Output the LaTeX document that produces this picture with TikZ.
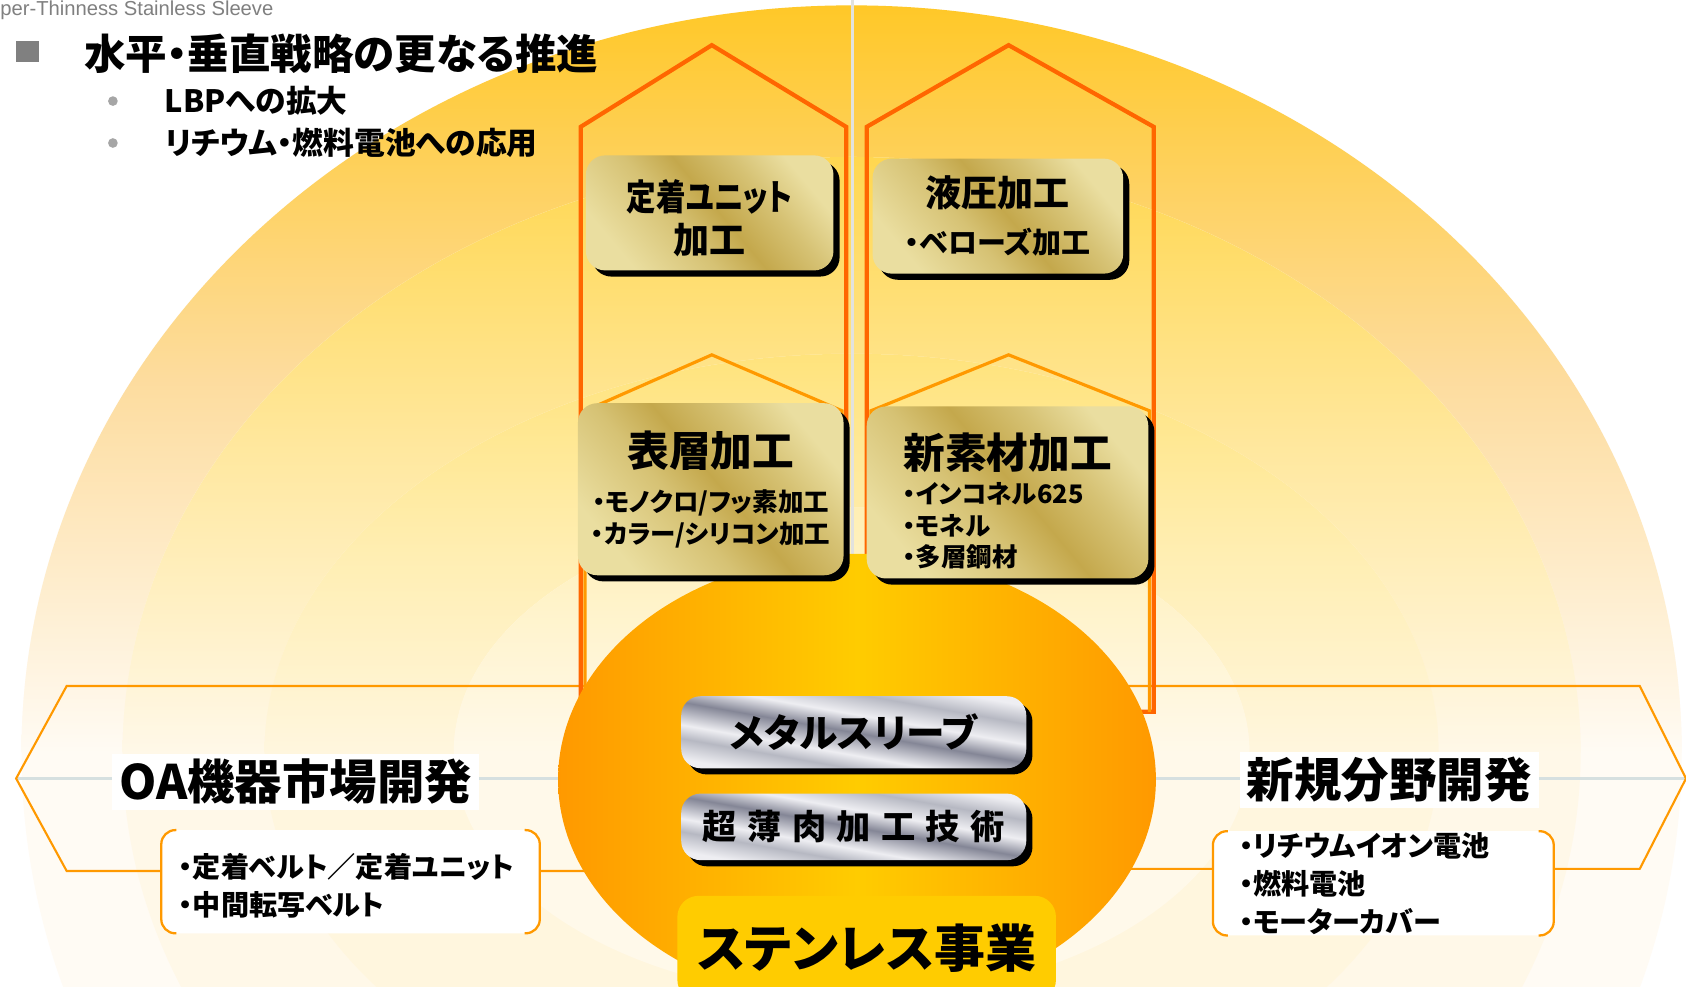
\documentclass[tikz,border=0pt]{standalone}
\usepackage{graphicx}
\usepackage{fontspec}
\setmainfont{Noto Sans CJK JP}[RawFeature=+palt, BoldFont={Noto Sans CJK JP Black}]
\newfontfamily\latfont{Liberation Sans}
\usetikzlibrary{shadows}

\definecolor{pentOrange}{RGB}{255,102,0}
\definecolor{hexOrange}{RGB}{255,153,0}
\definecolor{lineGray}{RGB}{214,224,224}
\definecolor{vertGray}{RGB}{226,226,222}
\definecolor{titleGray}{RGB}{128,128,128}
\definecolor{ellOrange}{RGB}{255,153,0}
\definecolor{ellYellow}{RGB}{255,204,0}
\definecolor{baseYellow}{RGB}{255,204,0}
\definecolor{goldL}{RGB}{234,222,160}
\definecolor{goldM}{RGB}{214,194,116}
\definecolor{goldD}{RGB}{196,168,76}
\definecolor{silverL}{RGB}{238,238,242}
\definecolor{silverM}{RGB}{182,184,194}
\definecolor{silverD}{RGB}{132,134,150}
% background bands
\definecolor{bandAt}{RGB}{255,200,40}
\definecolor{bandAm}{RGB}{253,220,158}
\definecolor{bandAb}{RGB}{255,251,244}
\definecolor{bandBt}{RGB}{255,215,80}
\definecolor{bandBm}{RGB}{255,232,160}
\definecolor{bandBb}{RGB}{255,248,232}
\definecolor{bandCt}{RGB}{255,227,124}
\definecolor{bandCm}{RGB}{255,238,178}
\definecolor{bandCb}{RGB}{255,246,222}
\definecolor{bandDt}{RGB}{255,239,180}
\definecolor{bandDm}{RGB}{255,244,208}
\definecolor{bandDb}{RGB}{255,249,234}

\pgfdeclarehorizontalshading{goldmetal}{100bp}{color(0bp)=(goldL); color(25bp)=(goldL); color(42bp)=(goldM); color(52bp)=(goldD); color(64bp)=(goldM); color(75bp)=(goldL); color(100bp)=(goldL)}
\pgfdeclarehorizontalshading{silvermetal}{100bp}{color(0bp)=(silverL); color(25bp)=(silverL); color(34bp)=(silverM); color(40bp)=(silverL); color(50bp)=(silverD); color(58bp)=(silverL); color(67bp)=(silverM); color(75bp)=(silverL); color(100bp)=(silverL)}

\newcommand{\headfont}{\fontsize{23.7}{28}\selectfont}
\newcommand{\itemfont}{\fontsize{14.5}{18}\selectfont}

\tikzset{
  axisline/.style={draw=lineGray, line width=1.8pt},
  hexline/.style={draw=hexOrange, line width=1.2pt},
  pentline/.style={draw=pentOrange, line width=2.4pt},
  innerpent/.style={draw=hexOrange, line width=1.8pt},
  bracket/.style={draw=hexOrange, line width=1.3pt, rounded corners=8pt},
  goldbox/.style={rectangle, rounded corners=11pt, shade, shading=goldmetal,
    shading angle=40, align=center, inner sep=0pt, font=\bfseries,
    drop shadow={shadow xshift=3.5pt, shadow yshift=-3.5pt, opacity=1, fill=black}},
  silverbox/.style={goldbox, shading=silvermetal, shading angle=80},
  fieldlabel/.style={fill=white, inner xsep=4pt, inner ysep=3pt,
    font=\fontsize{27}{32}\selectfont\bfseries},
  listtext/.style={align=left, inner sep=0pt, font=\fontsize{16}{21.5}\selectfont\bfseries},
  subitem/.style={anchor=west, inner sep=0pt, font=\fontsize{17.5}{21}\selectfont\bfseries}
}

\begin{document}
\begin{tikzpicture}[x=0.0215cm, y=-0.0215cm]
  \useasboundingbox (0,0) rectangle (1568,917);
  \fill[white] (0,0) rectangle (1568,917);
  % bands behind everything
  \foreach \rx/\ry/\tc/\mc/\bc in {772/695/bandAt/bandAm/bandAb, 678/554/bandBt/bandBm/bandBb,
      546/371/bandCt/bandCm/bandCb, 370/228/bandDt/bandDm/bandDb}{
    \fill[\bc] (792,700) ellipse [x radius=\rx, y radius=\ry];
    \shade[top color=\tc, bottom color=\bc, middle color=\mc]
      (792-\rx,700) arc[start angle=180, end angle=360, x radius=\rx, y radius=\ry] -- cycle;
  }

  % guide lines
  \draw[vertGray, line width=1.5pt] (793,0) -- (793,600);
  \draw[axisline] (15,724) -- (1568,724);

  % horizontal arrows
  \draw[hexline] (600,638) -- (62,638) -- (15,724) -- (62,810) -- (600,810);
  \draw[hexline] (1000,638) -- (1525,638) -- (1568,724) -- (1525,808) -- (1000,808);

  % vertical arrows
  \draw[pentline] (540,662) -- (540,118) -- (662,42) -- (787,118) -- (787,662) -- cycle;
  \draw[pentline] (806,662) -- (806,118) -- (938,42) -- (1073,118) -- (1073,662) -- cycle;
  \draw[innerpent] (544,662) -- (544,382) -- (662,330) -- (783,382) -- (783,662);
  \draw[innerpent] (810,662) -- (810,382) -- (938,330) -- (1069,382) -- (1069,662);

  % markets
  \fill[white, rounded corners=8pt] (150,772) rectangle (502,868);
  \draw[bracket] (164,772) -- (150,772) -- (150,868) -- (164,868);
  \draw[bracket] (488,772) -- (502,772) -- (502,868) -- (488,868);
  \node[listtext, anchor=west] (oalist) at (166,824) {・定着ベルト／定着ユニット\\・中間転写ベルト};
  \node[fieldlabel] (oa) at (275,727) {OA機器市場開発};

  \fill[white, rounded corners=8pt] (1128,773) rectangle (1445,870);
  \draw[bracket] (1142,773) -- (1128,773) -- (1128,870) -- (1142,870);
  \draw[bracket] (1431,773) -- (1445,773) -- (1445,870) -- (1431,870);
  \node[listtext, anchor=west] (newlist) at (1152,822) {・リチウムイオン電池\\・燃料電池\\・モーターカバー};
  \node[fieldlabel] (newfield) at (1292,725) {新規分野開発};

  % core
  \shade[left color=ellOrange, right color=ellOrange, middle color=ellYellow]
    (797,725) ellipse [x radius=278, y radius=210];

  \node[goldbox, minimum width=4.95cm, minimum height=2.3cm,
    font=\fontsize{20.5}{24.5}\selectfont\bfseries] (fixing) at (660,198)
    {\rule{0pt}{24pt}\scalebox{.82}[1]{定着ユニット}\\加工};
  \node[goldbox, minimum width=5.01cm, minimum height=2.3cm] (hydro) at (928,201)
    {{\fontsize{20.5}{24}\selectfont 液圧加工}\\[9pt]{\fontsize{16.5}{20}\selectfont ・ベローズ加工}};
  \node[goldbox, minimum width=5.31cm, minimum height=3.44cm, font=\itemfont\bfseries] (surface) at (661,455)
    {{\headfont 表層加工}\\[8pt]{\itemfont ・モノクロ/フッ素加工}\\{\itemfont ・カラー/シリコン加工}};
  \node[goldbox, minimum width=5.63cm, minimum height=3.44cm, font=\itemfont\bfseries] (material) at (937,458)
    {{\headfont\rule{0pt}{34pt}新素材加工}\\[4pt]{\itemfont\begin{tabular}{@{}l@{\hspace{16pt}}}・インコネル625\\・モネル\\・多層鋼材\end{tabular}}};

  \node[silverbox, minimum width=6.9cm, minimum height=1.44cm,
    font=\fontsize{22}{26}\selectfont\bfseries] (sleeve) at (794,681) {メタルスリーブ};
  \node[silverbox, minimum width=6.9cm, minimum height=1.33cm,
    font=\fontsize{19.5}{23}\selectfont\bfseries] (thin) at (794,769)
    {超\kern.3em 薄\kern.3em 肉\kern.3em 加\kern.3em 工\kern.3em 技\kern.3em 術};
  \node[fill=baseYellow, rounded corners=12pt, minimum width=7.57cm, minimum height=2.1cm,
    font=\fontsize{29}{33}\selectfont\bfseries] (stainless) at (806,882) {ステンレス事業};

  % heading
  \node[anchor=base west, inner sep=0pt, text=titleGray,
    font=\latfont\fontsize{11.5}{13}\selectfont] (sleevename) at (0,14) {per-Thinness Stainless Sleeve};
  \fill[titleGray] (15,38) rectangle (36,58);
  \node[anchor=west, inner sep=0pt, font=\fontsize{23.6}{27}\selectfont\bfseries] (title) at (78,50)
    {水平・垂直戦略の更なる推進};
  \fill[gray!70] (105,94) circle[radius=4.5];
  \fill[gray!70] (105,133) circle[radius=4.5];
  \node[subitem] (lbp) at (153,94) {LBPへの拡大};
  \node[subitem] (battery) at (153,133) {リチウム・燃料電池への応用};
\end{tikzpicture}
\end{document}
